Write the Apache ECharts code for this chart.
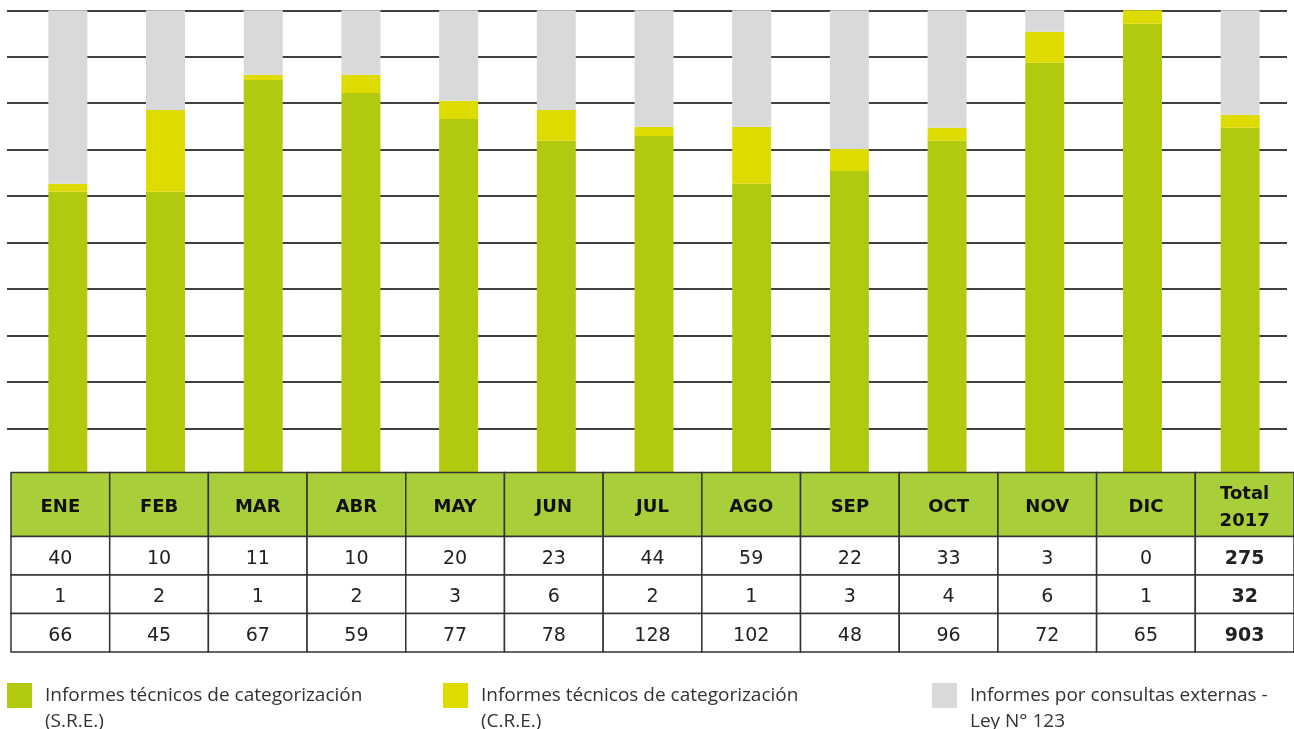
<!DOCTYPE html>
<html>
<head>
<meta charset="utf-8">
<title>Informes 2017</title>
<script src="https://cdn.jsdelivr.net/npm/echarts@6/dist/echarts.min.js"></script>
<style>
  html, body { margin: 0; padding: 0; background: #fff; }
  #chart { width: 1294px; height: 729px; }
</style>
</head>
<body>
<div id="chart"></div>
<script>
// columnas de la tabla / categorias de las barras
var meses = ['ENE', 'FEB', 'MAR', 'ABR', 'MAY', 'JUN', 'JUL', 'AGO', 'SEP', 'OCT', 'NOV', 'DIC', 'Total\n2017'];

// filas de la tabla, tal como aparecen
var filaConsultas = [40, 10, 11, 10, 20, 23, 44, 59, 22, 33, 3, 0, 275];
var filaCRE = [1, 2, 1, 2, 3, 6, 2, 1, 3, 4, 6, 1, 32];
var filaSRE = [66, 45, 67, 59, 77, 78, 128, 102, 48, 96, 72, 65, 903];

var pctSRE = [60.9, 60.9, 85.0, 82.2, 76.6, 71.9, 72.9, 62.6, 65.4, 71.9, 88.7, 97.1, 74.7];
var pctCRE = [1.7, 17.6, 1.1, 3.9, 3.9, 6.6, 2.0, 12.3, 4.7, 2.8, 6.7, 2.9, 2.8];
var pctConsultas = [37.4, 21.5, 13.9, 13.9, 19.5, 21.5, 25.1, 25.1, 29.9, 25.3, 4.6, 0, 22.5];

var nombres = [
  'Informes técnicos de categorización (S.R.E.)',
  'Informes técnicos de categorización (C.R.E.)',
  'Informes por consultas externas - Ley N° 123'
];

var chart = echarts.init(document.getElementById('chart'));

// celdas de la tabla: [columna, fila, texto]
var filasTabla = [filaConsultas, filaCRE, filaSRE];
var celdas = [];
meses.forEach(function (m, i) {
  celdas.push([i, 0, m]);
  filasTabla.forEach(function (fila, r) {
    celdas.push([i, r + 1, String(fila[i])]);
  });
});

// la cabecera es mas alta que las filas de datos
var limites = [0, 5, 8, 11, 14];

function dibujarCelda(params, api) {
  var col = api.value(0);
  var fila = api.value(1);
  var ancho = api.size([1, 0])[0];
  var arriba = api.coord([col, limites[fila]]);
  var abajo = api.coord([col, limites[fila + 1]]);
  var cabecera = fila === 0;
  var negrita = cabecera || col === meses.length - 1;
  var fuente = (negrita ? 'bold ' : '') + (cabecera ? '18px' : '19px') + ' "DejaVu Sans", sans-serif';
  return {
    type: 'group',
    children: [
      {
        type: 'rect',
        shape: { x: arriba[0] - ancho / 2, y: arriba[1], width: ancho, height: abajo[1] - arriba[1] },
        style: { fill: cabecera ? '#a8cf3a' : '#ffffff', stroke: '#333333', lineWidth: 1.5 }
      },
      {
        type: 'text',
        style: {
          x: arriba[0],
          y: (arriba[1] + abajo[1]) / 2 + 3,
          text: celdas[params.dataIndex][2],
          align: 'center',
          verticalAlign: 'middle',
          font: fuente,
          lineHeight: 27,
          fill: cabecera ? '#111111' : '#222222'
        }
      }
    ]
  };
}

var colores = ['#b1c90e', '#dedb00', '#d9d9d9'];
var series = [pctSRE, pctCRE, pctConsultas].map(function (valores, k) {
  return {
    name: nombres[k],
    type: 'bar',
    stack: 'total',
    barWidth: 39,
    xAxisIndex: 0,
    yAxisIndex: 0,
    itemStyle: { color: colores[k] },
    data: valores,
    z: 3
  };
});
series.push({
  type: 'custom',
  xAxisIndex: 2,
  yAxisIndex: 2,
  renderItem: dibujarCelda,
  encode: { x: 0, y: 1 },
  data: celdas,
  z: 10,
  silent: true
});

var posLeyenda = [7, 443, 932];

var option = {
  animation: false,
  backgroundColor: '#ffffff',
  grid: [
    { left: 19, right: 5, top: 10.3, bottom: 254.6 },   // barras
    { left: 7, right: 7, top: 10.3, bottom: 300.7 },    // lineas horizontales (10% a 100%)
    { left: 11, width: 1284, top: 472.5, height: 179.5 } // tabla
  ],
  xAxis: [
    { gridIndex: 0, type: 'category', data: meses, show: false },
    { gridIndex: 1, type: 'category', data: meses, show: false },
    { gridIndex: 2, type: 'category', data: meses, show: false }
  ],
  yAxis: [
    { gridIndex: 0, type: 'value', min: 0, max: 100, show: false, splitLine: { show: false } },
    {
      gridIndex: 1, type: 'value', min: 10, max: 100, interval: 10,
      axisLine: { show: false }, axisTick: { show: false }, axisLabel: { show: false },
      splitLine: { show: true, lineStyle: { color: '#000000', width: 1.5 } }
    },
    { gridIndex: 2, type: 'value', min: 0, max: 14, inverse: true, show: false, splitLine: { show: false } }
  ],
  legend: nombres.map(function (n, k) {
    return {
      data: [n],
      left: posLeyenda[k],
      top: 656.5,
      padding: 0,
      selectedMode: false,
      icon: 'rect',
      itemWidth: 25,
      itemHeight: 25,
      formatter: function (name) {
        // primera linea vacia para que el texto quede a la altura del cuadro
        var partes = name.indexOf(' (') > 0 ? name.replace(' (', '\n(') : name.replace('- ', '-\n');
        return '\n' + partes;
      },
      textStyle: {
        fontFamily: 'Open Sans',
        fontSize: 19,
        color: '#333333',
        lineHeight: 26,
        padding: [0, 0, 0, 8]
      }
    };
  }),
  series: series
};

chart.setOption(option);
</script>
</body>
</html>
